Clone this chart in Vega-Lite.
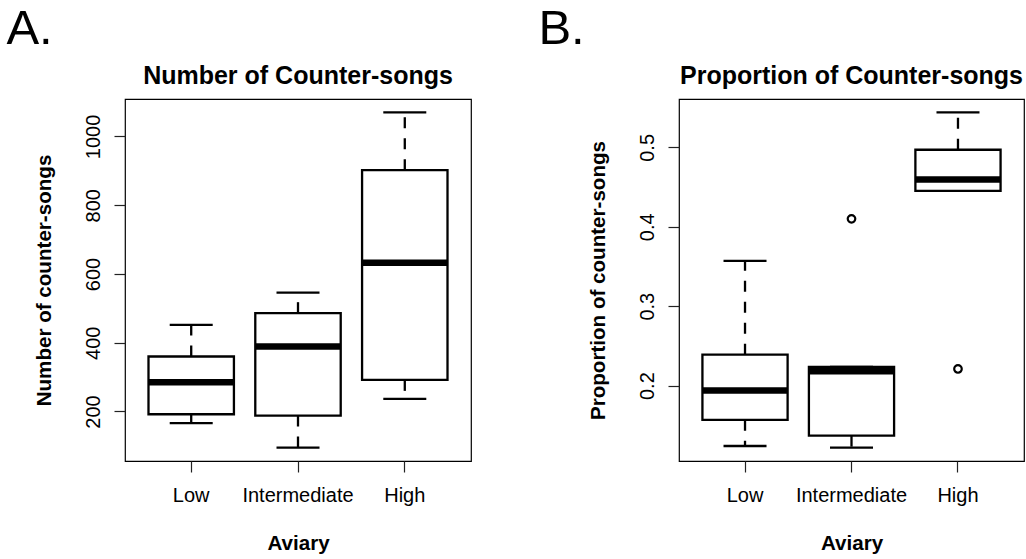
{
  "$schema": "https://vega.github.io/schema/vega-lite/v6.json",
  "padding": {"left": 6, "top": 5, "right": 0, "bottom": 0},
  "spacing": 66,
  "config": {
    "font": "Liberation Sans",
    "view": {"stroke": "black", "strokeWidth": 1.2},
    "axis": {"grid": false, "domain": false, "tickColor": "#222", "tickWidth": 1.2, "tickSize": 11, "labelColor": "black", "labelFontSize": 20, "titleColor": "black", "titleFontSize": 20.6, "titleFontWeight": "bold"},
    "axisY": {"labelAngle": 270, "labelAlign": "center", "labelBaseline": "alphabetic", "labelPadding": 15, "titleAngle": 270, "titleBaseline": "alphabetic", "titlePadding": 33},
    "axisX": {"labelAngle": 0, "labelPadding": 13, "titlePadding": 28}
  },
  "datasets": {
    "countBox": [
      {"aviary": "Low", "lo": 166, "q1": 192, "med": 285, "q3": 360, "hi": 452},
      {"aviary": "Intermediate", "lo": 95, "q1": 188, "med": 389, "q3": 486, "hi": 546},
      {"aviary": "High", "lo": 237, "q1": 292, "med": 633, "q3": 902, "hi": 1070}
    ],
    "propBox": [
      {"aviary": "Low", "lo": 0.124, "q1": 0.157, "med": 0.194, "q3": 0.239, "hi": 0.357},
      {"aviary": "Intermediate", "lo": 0.122, "q1": 0.137, "med": 0.218, "q3": 0.2235, "hi": 0.2235},
      {"aviary": "High", "lo": 0.4453, "q1": 0.4453, "med": 0.4596, "q3": 0.497, "hi": 0.544}
    ],
    "propOut": [
      {"aviary": "Intermediate", "value": 0.41},
      {"aviary": "High", "value": 0.221}
    ]
  },
  "hconcat": [
    {
      "title": {"text": "A.", "anchor": "start", "fontSize": 49, "fontWeight": "normal", "color": "black", "dx": -27, "offset": 9},
      "vconcat": [
        {
          "width": 346,
          "height": 362,
          "title": {"text": "Number of Counter-songs", "fontSize": 25, "fontWeight": "bold", "color": "black", "anchor": "middle", "frame": "group", "offset": 10},
          "data": {"name": "countBox"},
          "encoding": {
            "x": {"field": "aviary", "type": "nominal", "sort": ["Low", "Intermediate", "High"], "scale": {"paddingInner": 0.2, "paddingOuter": 0.22}, "title": "Aviary"}
          },
          "layer": [
            {"mark": {"type": "rule", "strokeDash": [11, 10], "strokeWidth": 2.3, "color": "black"},
             "encoding": {"x": {"field": "aviary", "type": "nominal", "sort": ["Low", "Intermediate", "High"], "bandPosition": 0.5, "title": "Aviary"},
                          "y": {"field": "q3", "type": "quantitative", "scale": {"domain": [56, 1109], "nice": false, "zero": false}, "axis": {"values": [200, 400, 600, 800, 1000], "format": "d"}, "title": "Number of counter-songs"},
                          "y2": {"field": "hi"}}},
            {"mark": {"type": "rule", "strokeDash": [11, 10], "strokeWidth": 2.3, "color": "black"},
             "encoding": {"x": {"field": "aviary", "type": "nominal", "sort": ["Low", "Intermediate", "High"], "bandPosition": 0.5, "title": "Aviary"},
                          "y": {"field": "q1", "type": "quantitative", "scale": {"domain": [56, 1109], "nice": false, "zero": false}, "axis": {"values": [200, 400, 600, 800, 1000], "format": "d"}, "title": "Number of counter-songs"},
                          "y2": {"field": "lo"}}},
            {"mark": {"type": "tick", "size": 43, "thickness": 2.3, "color": "black", "opacity": 1},
             "encoding": {"y": {"field": "hi", "type": "quantitative", "scale": {"domain": [56, 1109], "nice": false, "zero": false}, "axis": {"values": [200, 400, 600, 800, 1000], "format": "d"}, "title": "Number of counter-songs"}}},
            {"mark": {"type": "tick", "size": 43, "thickness": 2.3, "color": "black", "opacity": 1},
             "encoding": {"y": {"field": "lo", "type": "quantitative", "scale": {"domain": [56, 1109], "nice": false, "zero": false}, "axis": {"values": [200, 400, 600, 800, 1000], "format": "d"}, "title": "Number of counter-songs"}}},
            {"mark": {"type": "bar", "fill": "white", "stroke": "black", "strokeWidth": 2.3, "opacity": 1},
             "encoding": {"y": {"field": "q1", "type": "quantitative", "scale": {"domain": [56, 1109], "nice": false, "zero": false}, "axis": {"values": [200, 400, 600, 800, 1000], "format": "d"}, "title": "Number of counter-songs"},
                          "y2": {"field": "q3"}}},
            {"mark": {"type": "tick", "size": 85, "thickness": 6.5, "color": "black", "opacity": 1},
             "encoding": {"y": {"field": "med", "type": "quantitative", "scale": {"domain": [56, 1109], "nice": false, "zero": false}, "axis": {"values": [200, 400, 600, 800, 1000], "format": "d"}, "title": "Number of counter-songs"}}}
          ]
        }
      ]
    },
    {
      "title": {"text": "B.", "anchor": "start", "fontSize": 49, "fontWeight": "normal", "color": "black", "dx": -49, "offset": 9},
      "vconcat": [
        {
          "width": 345,
          "height": 362,
          "title": {"text": "Proportion of Counter-songs", "fontSize": 25, "fontWeight": "bold", "color": "black", "anchor": "middle", "frame": "group", "offset": 10},
          "encoding": {
            "x": {"field": "aviary", "type": "nominal", "sort": ["Low", "Intermediate", "High"], "scale": {"paddingInner": 0.2, "paddingOuter": 0.22}, "title": "Aviary"}
          },
          "layer": [
            {"data": {"name": "propBox"},
             "mark": {"type": "rule", "strokeDash": [11, 10], "strokeWidth": 2.3, "color": "black"},
             "encoding": {"x": {"field": "aviary", "type": "nominal", "sort": ["Low", "Intermediate", "High"], "bandPosition": 0.5, "title": "Aviary"},
                          "y": {"field": "q3", "type": "quantitative", "scale": {"domain": [0.1051, 0.5609], "nice": false, "zero": false}, "axis": {"values": [0.2, 0.3, 0.4, 0.5], "format": ".1f"}, "title": "Proportion of counter-songs"},
                          "y2": {"field": "hi"}}},
            {"data": {"name": "propBox"},
             "mark": {"type": "rule", "strokeDash": [11, 10], "strokeWidth": 2.3, "color": "black"},
             "encoding": {"x": {"field": "aviary", "type": "nominal", "sort": ["Low", "Intermediate", "High"], "bandPosition": 0.5, "title": "Aviary"},
                          "y": {"field": "q1", "type": "quantitative", "scale": {"domain": [0.1051, 0.5609], "nice": false, "zero": false}, "axis": {"values": [0.2, 0.3, 0.4, 0.5], "format": ".1f"}, "title": "Proportion of counter-songs"},
                          "y2": {"field": "lo"}}},
            {"data": {"name": "propBox"},
             "mark": {"type": "tick", "size": 43, "thickness": 2.3, "color": "black", "opacity": 1},
             "encoding": {"y": {"field": "hi", "type": "quantitative", "scale": {"domain": [0.1051, 0.5609], "nice": false, "zero": false}, "axis": {"values": [0.2, 0.3, 0.4, 0.5], "format": ".1f"}, "title": "Proportion of counter-songs"}}},
            {"data": {"name": "propBox"},
             "mark": {"type": "tick", "size": 43, "thickness": 2.3, "color": "black", "opacity": 1},
             "encoding": {"y": {"field": "lo", "type": "quantitative", "scale": {"domain": [0.1051, 0.5609], "nice": false, "zero": false}, "axis": {"values": [0.2, 0.3, 0.4, 0.5], "format": ".1f"}, "title": "Proportion of counter-songs"}}},
            {"data": {"name": "propBox"},
             "mark": {"type": "bar", "fill": "white", "stroke": "black", "strokeWidth": 2.3, "opacity": 1},
             "encoding": {"y": {"field": "q1", "type": "quantitative", "scale": {"domain": [0.1051, 0.5609], "nice": false, "zero": false}, "axis": {"values": [0.2, 0.3, 0.4, 0.5], "format": ".1f"}, "title": "Proportion of counter-songs"},
                          "y2": {"field": "q3"}}},
            {"data": {"name": "propBox"},
             "mark": {"type": "tick", "size": 85, "thickness": 6.5, "color": "black", "opacity": 1},
             "encoding": {"y": {"field": "med", "type": "quantitative", "scale": {"domain": [0.1051, 0.5609], "nice": false, "zero": false}, "axis": {"values": [0.2, 0.3, 0.4, 0.5], "format": ".1f"}, "title": "Proportion of counter-songs"}}},
            {"data": {"name": "propOut"},
             "mark": {"type": "point", "shape": "circle", "filled": false, "size": 57, "strokeWidth": 2.2, "color": "black", "opacity": 1},
             "encoding": {"y": {"field": "value", "type": "quantitative", "scale": {"domain": [0.1051, 0.5609], "nice": false, "zero": false}, "axis": {"values": [0.2, 0.3, 0.4, 0.5], "format": ".1f"}, "title": "Proportion of counter-songs"}}}
          ]
        }
      ]
    }
  ]
}
